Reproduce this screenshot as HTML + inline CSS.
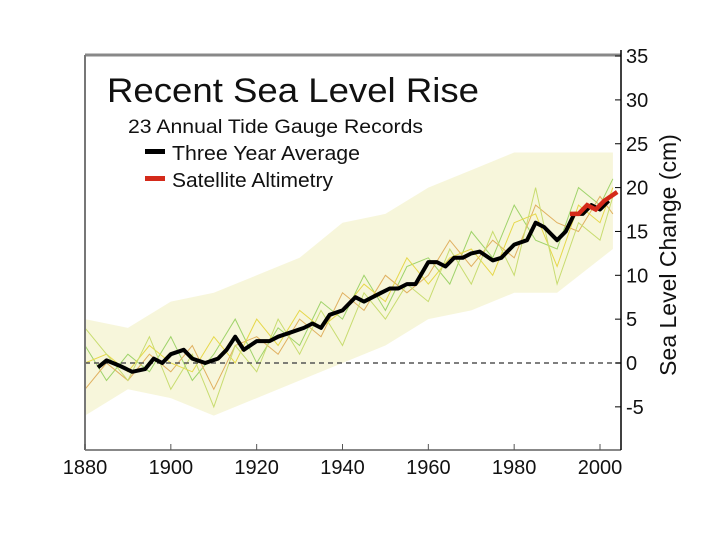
<!DOCTYPE html>
<html><head><meta charset="utf-8"><style>
body{margin:0;background:#fff;width:720px;height:540px;overflow:hidden}
svg{display:block;font-family:"Liberation Sans",sans-serif}
</style></head><body>
<svg id="c" width="720" height="540">
<rect x="85" y="55" width="536" height="395" fill="#fff" stroke="none"/>
<g id="band"></g>
<g id="gauges"></g>
<line id="zero" stroke="#555" stroke-width="1.5" stroke-dasharray="5,4"/>
<g id="lines"></g>
<line x1="85" y1="55" x2="621" y2="55" stroke="#888" stroke-width="3"/>
<line x1="85" y1="55" x2="85" y2="450" stroke="#777" stroke-width="2"/>
<line x1="85" y1="450" x2="621" y2="450" stroke="#888" stroke-width="2"/>
<line x1="621" y1="50" x2="621" y2="450" stroke="#000" stroke-width="1.5"/>
<g id="axes"></g>
<text x="107" y="102" font-size="34" textLength="372" lengthAdjust="spacingAndGlyphs" fill="#111">Recent Sea Level Rise</text>
<text x="128" y="133" font-size="19" textLength="295" lengthAdjust="spacingAndGlyphs" fill="#111">23 Annual Tide Gauge Records</text>
<rect x="145" y="149" width="20" height="5" fill="#000"/>
<text x="172" y="160" font-size="20" textLength="188" lengthAdjust="spacingAndGlyphs" fill="#111">Three Year Average</text>
<rect x="145" y="176" width="20" height="5" fill="#d42a1a"/>
<text x="172" y="187" font-size="20" textLength="161" lengthAdjust="spacingAndGlyphs" fill="#111">Satellite Altimetry</text>
<text transform="translate(676,255) rotate(-90)" text-anchor="middle" font-size="23" fill="#111">Sea Level Change (cm)</text>
</svg>
<script>
const avgYears=[1883,1885,1888,1891,1894,1896,1898,1900,1903,1905,1908,1911,1913,1915,1917,1920,1923,1925,1928,1931,1933,1935,1937,1940,1943,1945,1947,1949,1951,1953,1955,1957,1960,1962,1964,1966,1968,1970,1972,1975,1977,1980,1983,1985,1987,1990,1992,1994,1996,1998,2000,2002];
const avgValues=[-0.5,0.3,-0.3,-1,-0.7,0.5,0,1,1.5,0.5,0,0.5,1.5,3,1.5,2.5,2.5,3,3.5,4,4.5,4,5.5,6,7.5,7,7.5,8,8.5,8.5,9,9,11.5,11.5,11,12,12,12.5,12.7,11.7,12,13.5,14,16,15.5,14,15,17,17,18,17.5,18.5];
const satYears=[1993,1995,1997,1999,2001,2004];
const satValues=[17,17,18,17.5,18.5,19.5];
const bandYears=[1880,1890,1900,1910,1920,1930,1940,1950,1960,1970,1980,1990,2003];
const bandUpper=[5,4,7,8,10,12,16,17,20,22,24,24,24];
const bandLower=[-6,-3,-4,-6,-4,-2,0,2,5,6,8,8,13];
const gaugeYears=[1880,1885,1890,1895,1900,1905,1910,1915,1920,1925,1930,1935,1940,1945,1950,1955,1960,1965,1970,1975,1980,1985,1990,1995,2000,2003];
const gaugeA=[2,-2,1,-1,3,-2,1,5,0,4,2,7,5,10,6,11,12,9,15,12,18,14,13,20,18,21];
const gaugeB=[-3,0,-2,1,-1,2,-3,2,3,1,5,3,8,6,10,8,10,14,11,14,12,18,16,15,19,17];
const gaugeC=[0,1,-1,2,0,-1,3,0,5,2,6,4,6,9,7,12,9,12,13,10,16,17,11,18,16,20];
const gaugeD=[4,1,-2,3,-3,1,-5,2,-1,5,1,6,2,8,5,9,7,13,9,15,10,20,9,16,14,19];
const yTicks=[-5,0,5,10,15,20,25,30,35];
const xTicks=[1880,1900,1920,1940,1960,1980,2000];
const X=y=>85+(y-1880)*(515/120);
const Y=v=>363-v*8.77;
const NS="http://www.w3.org/2000/svg";
function mk(tag,parent){const e=document.createElementNS(NS,tag);document.getElementById(parent).appendChild(e);return e;}
const pts=(xs,vs)=>xs.map((x,i)=>X(x).toFixed(1)+","+Y(vs[i]).toFixed(1)).join(" ");
const band=mk("polygon","band");


band.setAttribute("points",pts(bandYears,bandUpper)+" "+pts(bandYears.slice().reverse(),bandLower.slice().reverse()));
band.setAttribute("fill","#eeeab0");band.setAttribute("opacity","0.45");
[[gaugeA,"#9fd36a"],[gaugeB,"#e0b060"],[gaugeC,"#e6d84a"],[gaugeD,"#c8dc70"]].forEach(([g,c],i)=>{
const l=mk("polyline","gauges");


l.setAttribute("points",pts(gaugeYears,g));l.setAttribute("fill","none");l.setAttribute("stroke",c);l.setAttribute("stroke-width","1");});
const z=document.getElementById("zero");z.setAttribute("x1",85);z.setAttribute("x2",621);z.setAttribute("y1",Y(0));z.setAttribute("y2",Y(0));
const a=mk("polyline","lines");


a.setAttribute("points",pts(avgYears,avgValues));a.setAttribute("fill","none");a.setAttribute("stroke","#000");a.setAttribute("stroke-width","4");a.setAttribute("stroke-linejoin","round");
const s=mk("polyline","lines");


s.setAttribute("points",pts(satYears,satValues));s.setAttribute("fill","none");s.setAttribute("stroke","#d42a1a");s.setAttribute("stroke-width","4.5");
yTicks.forEach(v=>{
const t=mk("line","axes");


t.setAttribute("x1",615);t.setAttribute("x2",621);t.setAttribute("y1",Y(v));t.setAttribute("y2",Y(v));t.setAttribute("stroke","#000");
const l=mk("text","axes");


l.setAttribute("x",626);l.setAttribute("y",Y(v)+7);l.setAttribute("font-size","20");l.setAttribute("fill","#111");l.textContent=v;});
xTicks.forEach(v=>{
const t=mk("line","axes");


t.setAttribute("x1",X(v));t.setAttribute("x2",X(v));t.setAttribute("y1",444);t.setAttribute("y2",450);t.setAttribute("stroke","#555");
const l=mk("text","axes");


l.setAttribute("x",X(v));l.setAttribute("y",474);l.setAttribute("text-anchor","middle");l.setAttribute("font-size","20");l.setAttribute("fill","#111");l.textContent=v;});
</script>
</body></html>
